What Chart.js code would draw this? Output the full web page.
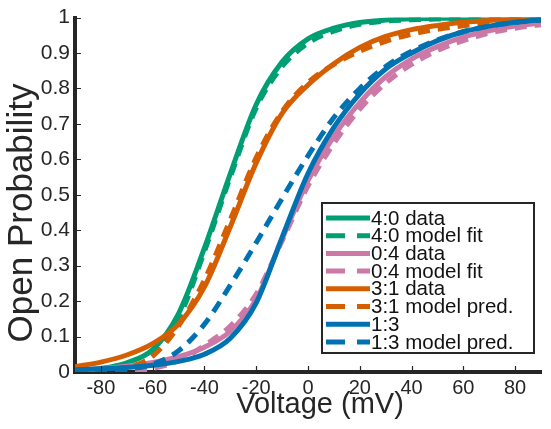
<!DOCTYPE html>
<html>
<head>
<meta charset="utf-8">
<script src="https://cdn.jsdelivr.net/npm/chart.js@4/dist/chart.umd.min.js"></script>
<style>
html,body{margin:0;padding:0;background:#ffffff;}
#wrap{width:551px;height:429px;position:relative;}
</style>
</head>
<body>
<div id="wrap"><canvas id="c" width="551" height="429"></canvas></div>
<script>
// ---- data ----
const voltage = [-90,-80,-70,-60,-50,-40,-30,-20,-10,0,10,20,30,40,50,60,70,80,90];
const xTickValues = [-80,-60,-40,-20,0,20,40,60,80];
const yTickValues = [0,0.1,0.2,0.3,0.4,0.5,0.6,0.7,0.8,0.9,1];
const yTickLabels = ['0','0.1','0.2','0.3','0.4','0.5','0.6','0.7','0.8','0.9','1'];
const seriesLabels = ['4:0 data','4:0 model fit','0:4 data','0:4 model fit','3:1 data','3:1 model pred.','1:3','1:3 model pred.'];

const data40 = [0.004,0.010,0.026,0.063,0.165,0.350,0.560,0.755,0.875,0.940,0.970,0.986,0.993,0.997,0.998,0.999,0.999,1.000,1.000];
const fit40  = [0.001,0.003,0.010,0.046,0.150,0.340,0.550,0.745,0.862,0.928,0.962,0.981,0.990,0.994,0.996,0.997,0.998,0.998,0.998];
const data04 = [0.004,0.009,0.016,0.027,0.043,0.070,0.115,0.205,0.375,0.540,0.665,0.760,0.833,0.883,0.918,0.945,0.963,0.976,0.985];
const fit04  = [0.000,0.001,0.003,0.010,0.032,0.075,0.130,0.220,0.370,0.525,0.645,0.742,0.815,0.868,0.907,0.935,0.956,0.970,0.980];
const data31 = [0.015,0.028,0.048,0.080,0.135,0.240,0.410,0.590,0.730,0.810,0.870,0.916,0.947,0.966,0.978,0.987,0.992,0.995,0.997];
const pred31 = [0.001,0.003,0.012,0.045,0.130,0.260,0.430,0.605,0.735,0.817,0.868,0.905,0.933,0.953,0.967,0.977,0.984,0.989,0.992];
const data13 = [0.006,0.009,0.013,0.019,0.030,0.050,0.095,0.195,0.380,0.560,0.690,0.785,0.855,0.900,0.935,0.960,0.976,0.987,0.994];
const pred13 = [0.001,0.003,0.008,0.022,0.060,0.135,0.245,0.365,0.490,0.610,0.718,0.800,0.862,0.905,0.937,0.960,0.976,0.986,0.993];

const seriesValues = [data40, fit40, data04, fit04, data31, pred31, data13, pred13];
const seriesColors = ['#009E73','#009E73','#CC79A7','#CC79A7','#D55E00','#D55E00','#0072B2','#0072B2'];
const seriesDashed = [false,true,false,true,false,true,false,true];

const FONT = "'Liberation Sans', Arial, Helvetica, sans-serif";
const AX = '#262626';

const datasets = seriesValues.map((vals, i) => ({
  label: seriesLabels[i],
  data: voltage.map((v, k) => ({x: v, y: vals[k]})),
  borderColor: seriesColors[i],
  backgroundColor: seriesColors[i],
  borderWidth: 5,
  borderDash: seriesDashed[i] ? [12, 8] : [],
  borderCapStyle: 'butt',
  pointRadius: 0,
  fill: false,
  cubicInterpolationMode: 'monotone',
  order: seriesValues.length - i
}));

const decorPlugin = {
  id: 'decor',
  afterDatasetsDraw(chart) {
    const ctx = chart.ctx;
    const xs = chart.scales.x, ys = chart.scales.y;
    const a = chart.chartArea;
    ctx.save();
    // inward tick marks
    ctx.strokeStyle = AX;
    ctx.lineWidth = 1.2;
    ctx.beginPath();
    yTickValues.forEach(v => {
      const y = Math.round(ys.getPixelForValue(v)) + 0.5;
      ctx.moveTo(a.left, y); ctx.lineTo(a.left + 6, y);
    });
    xTickValues.forEach(v => {
      const x = Math.round(xs.getPixelForValue(v)) + 0.5;
      ctx.moveTo(x, a.bottom); ctx.lineTo(x, a.bottom - 6);
    });
    ctx.stroke();

    // legend box
    const L = 322, T = 203, R = 534, B = 353;
    ctx.fillStyle = '#ffffff';
    ctx.fillRect(L, T, R - L, B - T);
    ctx.strokeStyle = AX;
    ctx.lineWidth = 2;
    ctx.strokeRect(L, T, R - L, B - T);
    ctx.font = '20.5px ' + FONT;
    ctx.textBaseline = 'middle';
    ctx.textAlign = 'left';
    const rowH = 17.7;
    chart.data.datasets.forEach((ds, i) => {
      const y = T + 15 + i * rowH;
      ctx.strokeStyle = ds.borderColor;
      ctx.lineWidth = 5;
      ctx.lineCap = 'butt';
      ctx.setLineDash(ds.borderDash.length ? [19, 12] : []);
      ctx.beginPath();
      ctx.moveTo(L + 4, y); ctx.lineTo(L + 48, y);
      ctx.stroke();
      ctx.setLineDash([]);
      ctx.fillStyle = '#111111';
      ctx.fillText(ds.label, L + 49, y + 1);
    });

    // axis titles
    ctx.fillStyle = AX;
    ctx.textAlign = 'center';
    ctx.textBaseline = 'middle';
    ctx.font = '29px ' + FONT;
    ctx.fillText('Voltage (mV)', 320, 405);
    ctx.save();
    ctx.translate(22, 213);
    ctx.rotate(-Math.PI / 2);
    ctx.font = '35px ' + FONT;
    ctx.fillText('Open Probability', 0, 0);
    ctx.restore();
    ctx.restore();
  }
};

new Chart(document.getElementById('c'), {
  type: 'line',
  data: { datasets },
  options: {
    responsive: false,
    animation: false,
    devicePixelRatio: 1,
    layout: { padding: { left: 0, right: 10, top: 15, bottom: 0 } },
    plugins: { legend: { display: false }, tooltip: { enabled: false } },
    scales: {
      x: {
        type: 'linear', min: -90, max: 90,
        afterFit(s) { s.height = 57; },
        afterBuildTicks(s) { s.ticks = xTickValues.map(v => ({value: v})); },
        grid: { display: true, drawOnChartArea: false, drawTicks: false },
        border: { display: true, width: 4, color: AX },
        ticks: { color: AX, font: { family: FONT, size: 20 }, padding: 4, maxRotation: 0, autoSkip: false },
        title: { display: false }
      },
      y: {
        type: 'linear', min: 0, max: 1,
        afterFit(s) { s.width = 75; },
        afterBuildTicks(s) { s.ticks = yTickValues.map(v => ({value: v})); },
        grid: { display: true, drawOnChartArea: false, drawTicks: false },
        border: { display: true, width: 4, color: AX },
        ticks: { color: AX, font: { family: FONT, size: 21 }, padding: 5, autoSkip: false,
          callback(v) { const k = yTickValues.findIndex(t => Math.abs(t - v) < 1e-9); return k >= 0 ? yTickLabels[k] : ''; } },
        title: { display: false }
      }
    }
  },
  plugins: [decorPlugin]
});
</script>
</body>
</html>
